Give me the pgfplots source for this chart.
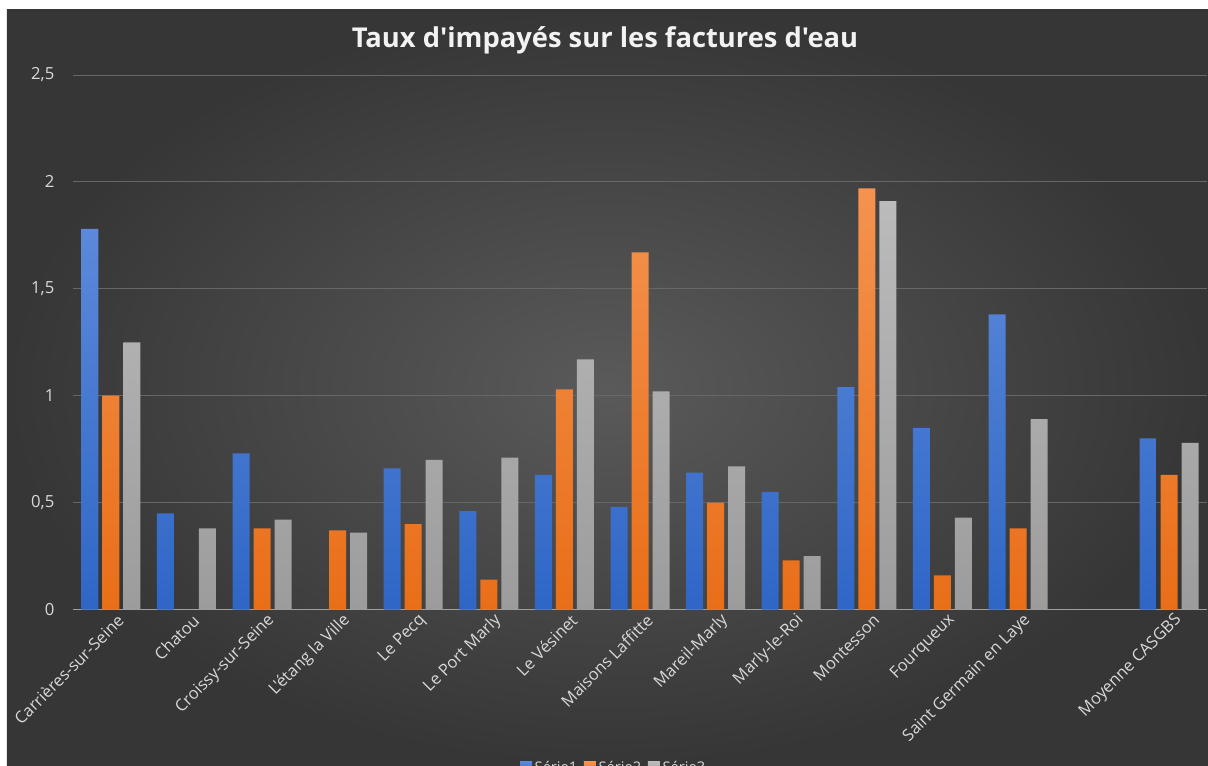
\documentclass[border=0pt]{standalone}
\usepackage{fontspec}
\setmainfont{Open Sans}[Ligatures=TeXOff]
\usepackage{pgfplots}
\pgfplotsset{compat=1.18}
\definecolor{bgin}{HTML}{5A5A5A}
\definecolor{bgout}{HTML}{363636}
\definecolor{gridc}{HTML}{676767}
\definecolor{axisc}{HTML}{A0A0A0}
\definecolor{labc}{HTML}{D9D9D9}
\definecolor{bluetop}{HTML}{5C89D9}
\definecolor{bluebot}{HTML}{2F66C6}
\definecolor{orangetop}{HTML}{F4934F}
\definecolor{orangebot}{HTML}{E96E18}
\definecolor{greytop}{HTML}{BBBBBB}
\definecolor{greybot}{HTML}{9C9C9C}
\begin{document}
\begin{tikzpicture}
\path[use as bounding box] (-54.75pt,-116.6pt) rectangle (851.25pt,457.15pt);
\fill[white] (-54.75pt,-116.6pt) rectangle (851.25pt,457.15pt);
\shade[inner color=bgin, outer color=bgout] (-49.5pt,-116.6pt) rectangle (851.25pt,449.65pt);
\begin{axis}[
  at={(0,0)}, anchor=south west, scale only axis,
  width=850.5pt, height=400.9pt,
  ymin=0, ymax=2.5, xmin=-0.5, xmax=14.5,
  ybar=3pt, bar width=12.75pt,
  ytick={0,0.5,1,1.5,2,2.5},
  xtick={0,...,14},
  xticklabels={Carrières-sur-Seine,Chatou,Croissy-sur-Seine,L'étang la Ville,Le Pecq,Le Port Marly,Le Vésinet,Maisons Laffitte,Mareil-Marly,Marly-le-Roi,Montesson,Fourqueux,Saint Germain en Laye,{},Moyenne CASGBS},
  /pgf/number format/.cd, use comma, fixed, assume math mode=true, /pgfplots/.cd,
  major tick length=0pt,
  axis x line*=bottom, axis y line*=left,
  x axis line style={draw=axisc, line width=0.75pt, -},
  y axis line style={draw=none},
  ymajorgrids, grid style={draw=gridc, line width=0.75pt},
  yticklabel style={font=\fontsize{12.5pt}{14pt}\selectfont, text=labc, anchor=east, xshift=-10.5pt},
  xticklabel style={font=\fontsize{12.3pt}{15pt}\selectfont, text=labc, rotate=45, anchor=east, inner sep=1pt, yshift=-9.5pt, xshift=2pt},
  legend style={at={(axis description cs:0.477,0)}, anchor=center, yshift=-118.5pt, draw=none, fill=none, text=labc, font=\fontsize{11pt}{13pt}\selectfont, legend columns=3, /tikz/every even column/.append style={column sep=3pt}},
  legend image code/.code={\fill[#1] (0pt,-4.5pt) rectangle (9pt,4.5pt);},
]
\addplot[draw=none, top color=bluetop, bottom color=bluebot] coordinates {(0,1.78)(1,0.45)(2,0.73)(4,0.66)(5,0.46)(6,0.63)(7,0.48)(8,0.64)(9,0.55)(10,1.04)(11,0.85)(12,1.38)(14,0.80)};
\addplot[draw=none, top color=orangetop, bottom color=orangebot] coordinates {(0,1.00)(2,0.38)(3,0.37)(4,0.40)(5,0.14)(6,1.03)(7,1.67)(8,0.50)(9,0.23)(10,1.97)(11,0.16)(12,0.38)(14,0.63)};
\addplot[draw=none, top color=greytop, bottom color=greybot] coordinates {(0,1.25)(1,0.38)(2,0.42)(3,0.36)(4,0.70)(5,0.71)(6,1.17)(7,1.02)(8,0.67)(9,0.25)(10,1.91)(11,0.43)(12,0.89)(14,0.78)};
\legend{Série1,Série2,Série3}
\end{axis}
\node[text=white!95!black, font=\fontsize{20.5pt}{24pt}\selectfont\bfseries] at (399pt,427pt) {Taux d'impayés sur les factures d'eau};
\end{tikzpicture}
\end{document}
